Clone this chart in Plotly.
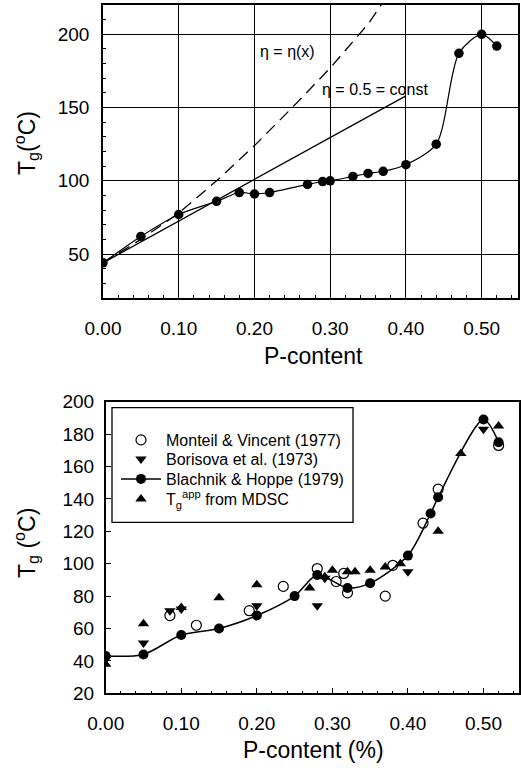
import plotly.graph_objects as go

# ---- top panel data ----
top_x = [0.00, 0.05, 0.10, 0.15, 0.18, 0.20, 0.22, 0.27, 0.29, 0.30, 0.33, 0.35, 0.37, 0.40, 0.44, 0.47, 0.50, 0.52]
top_y = [44, 62, 77, 86, 92, 91, 92, 97.5, 99.5, 100, 103, 105, 106.5, 111, 125, 187, 200, 192]
dash_x = [0.00, 0.05, 0.10, 0.15, 0.20, 0.25, 0.30, 0.35, 0.37]
dash_y = [44, 60, 78, 100, 124, 150, 177, 207, 222]
const_x = [0.00, 0.40]
const_y = [44, 158]

# ---- bottom panel data ----
bh_x = [0.00, 0.05, 0.10, 0.15, 0.20, 0.25, 0.28, 0.32, 0.35, 0.40, 0.43, 0.44, 0.50, 0.52]
bh_y = [43, 44, 56, 60, 68, 80, 93, 85, 88, 105, 131, 141, 189, 175]
mv_x = [0.085, 0.12, 0.19, 0.235, 0.28, 0.305, 0.315, 0.32, 0.37, 0.38, 0.42, 0.44, 0.52]
mv_y = [68, 62, 71, 86, 97, 89, 94, 82, 80, 99, 125, 146, 173]
bo_x = [0.00, 0.05, 0.085, 0.10, 0.20, 0.28, 0.29, 0.40, 0.50]
bo_y = [41, 51, 71, 72, 74, 74, 91, 95, 183]
md_x = [0.00, 0.05, 0.10, 0.15, 0.20, 0.27, 0.29, 0.30, 0.32, 0.33, 0.35, 0.37, 0.39, 0.44, 0.47, 0.52]
md_y = [38, 63, 73, 79, 87, 85, 92, 96, 95, 95, 96, 98, 100, 120, 168, 185]

top_yticks = [50, 100, 150, 200]
bot_yticks = [20, 40, 60, 80, 100, 120, 140, 160, 180, 200]
xticks = [0.0, 0.1, 0.2, 0.3, 0.4, 0.5]
xticklabels = ["0.00", "0.10", "0.20", "0.30", "0.40", "0.50"]

FONT = "Liberation Sans, Arial, sans-serif"
W, H = 521, 768


def px_x(p):
    return p / W


def px_y(p):
    return 1 - p / H


fig = go.Figure()

# top panel
fig.add_trace(go.Scatter(x=dash_x, y=dash_y, mode="lines", line=dict(color="black", width=1.3, dash="12px,7px"),
                         xaxis="x", yaxis="y", showlegend=False))
fig.add_trace(go.Scatter(x=const_x, y=const_y, mode="lines", line=dict(color="black", width=1.3),
                         xaxis="x", yaxis="y", showlegend=False))
fig.add_trace(go.Scatter(x=top_x, y=top_y, mode="lines+markers",
                         line=dict(color="black", width=1.2, shape="spline", smoothing=0.8),
                         marker=dict(color="black", size=9.5), xaxis="x", yaxis="y", showlegend=False))

# bottom panel
fig.add_trace(go.Scatter(x=mv_x, y=mv_y, mode="markers", name="Monteil &amp; Vincent (1977)",
                         marker=dict(symbol="circle-open", color="black", size=10, line=dict(width=1.2)),
                         xaxis="x2", yaxis="y2", legend="legend"))
fig.add_trace(go.Scatter(x=bo_x, y=bo_y, mode="markers", name="Borisova et al. (1973)",
                         marker=dict(symbol="triangle-down", color="black", size=10),
                         xaxis="x2", yaxis="y2", legend="legend2"))
fig.add_trace(go.Scatter(x=bh_x, y=bh_y, mode="lines+markers", name="Blachnik &amp; Hoppe (1979)",
                         line=dict(color="black", width=1.5, shape="spline", smoothing=0.8),
                         marker=dict(color="black", size=10), xaxis="x2", yaxis="y2", legend="legend3"))
fig.add_trace(go.Scatter(x=md_x, y=md_y, mode="markers", name="T<sub>g</sub><sup>app</sup> from MDSC",
                         marker=dict(symbol="triangle-up", color="black", size=10),
                         xaxis="x2", yaxis="y2", legend="legend4"))

axis_common = dict(showline=True, linecolor="black", linewidth=1.5, mirror=True, zeroline=False,
                   automargin=False,
                   tickfont=dict(family=FONT, size=19, color="black"), ticks="inside", tickcolor="black")

LEG_X = px_x(116)


def leg(ypx):
    return dict(x=LEG_X, y=px_y(ypx), xanchor="left", yanchor="middle", bgcolor="rgba(0,0,0,0)",
                borderwidth=0, itemwidth=40, font=dict(family=FONT, size=16, color="black"))


fig.update_layout(
    width=W, height=H, margin=dict(l=0, r=0, t=0, b=0, autoexpand=False),
    paper_bgcolor="white", plot_bgcolor="white",
    font=dict(family=FONT, color="black"),
    xaxis=dict(domain=[px_x(103), px_x(518)], anchor="y", range=[0, 0.548],
               tickvals=xticks, ticktext=xticklabels, showgrid=True, gridcolor="black", gridwidth=1.3,
               ticklen=5, ticklabelstandoff=12,
               minor=dict(dtick=0.02, tick0=0, ticks="inside", ticklen=3, tickcolor="black", showgrid=False),
               **axis_common),
    yaxis=dict(domain=[px_y(298), px_y(5)], anchor="x", range=[20, 220],
               tickvals=top_yticks, showgrid=True, gridcolor="black", gridwidth=1.3,
               ticklen=5, ticklabelstandoff=8,
               minor=dict(dtick=10, tick0=0, ticks="inside", ticklen=3, tickcolor="black", showgrid=False),
               **axis_common),
    xaxis2=dict(domain=[px_x(105.7), px_x(519)], anchor="y2", range=[0, 0.547],
                tickvals=xticks, ticktext=xticklabels, showgrid=False, ticklen=6, ticklabelstandoff=12,
                minor=dict(dtick=0.02, tick0=0, ticks="inside", ticklen=3, tickcolor="black", showgrid=False),
                **axis_common),
    yaxis2=dict(domain=[px_y(693.3), px_y(401.7)], anchor="x2", range=[20, 200],
                tickvals=bot_yticks, showgrid=False, ticklen=6, ticklabelstandoff=6,
                **axis_common),
    legend=leg(440),
    legend2=leg(459),
    legend3=leg(479),
    legend4=leg(499),
    shapes=[dict(type="rect", xref="paper", yref="paper", x0=px_x(112), x1=px_x(353),
                 y0=px_y(522.3), y1=px_y(407.7), line=dict(color="black", width=1.3),
                 fillcolor="white", layer="below")],
    annotations=[
        dict(text="η = η(x)", x=0.205, y=188, xref="x", yref="y", xanchor="left", yanchor="middle",
             showarrow=False, font=dict(family=FONT, size=16, color="black")),
        dict(text="η = 0.5 = const", x=0.287, y=162.5, xref="x", yref="y", xanchor="left", yanchor="middle",
             showarrow=False, font=dict(family=FONT, size=16, color="black")),
        dict(text="T<sub>g</sub>(<sup>o</sup>C)", x=px_x(26), y=px_y(143), xref="paper", yref="paper",
             xanchor="center", yanchor="middle",
             textangle=-90, showarrow=False, font=dict(family=FONT, size=23, color="black")),
        dict(text="P-content", x=px_x(313), y=px_y(356), xref="paper", yref="paper",
             xanchor="center", yanchor="middle",
             showarrow=False, font=dict(family=FONT, size=23, color="black")),
        dict(text="T<sub>g</sub> (<sup>o</sup>C)", x=px_x(26), y=px_y(543), xref="paper", yref="paper",
             xanchor="center", yanchor="middle",
             textangle=-90, showarrow=False, font=dict(family=FONT, size=23, color="black")),
        dict(text="P-content (%)", x=px_x(313), y=px_y(750), xref="paper", yref="paper",
             xanchor="center", yanchor="middle",
             showarrow=False, font=dict(family=FONT, size=23, color="black")),
    ],
)

fig.write_html("out.html", config={"displayModeBar": False},
               post_script="document.body.style.margin='0';document.body.style.overflow='hidden';")
